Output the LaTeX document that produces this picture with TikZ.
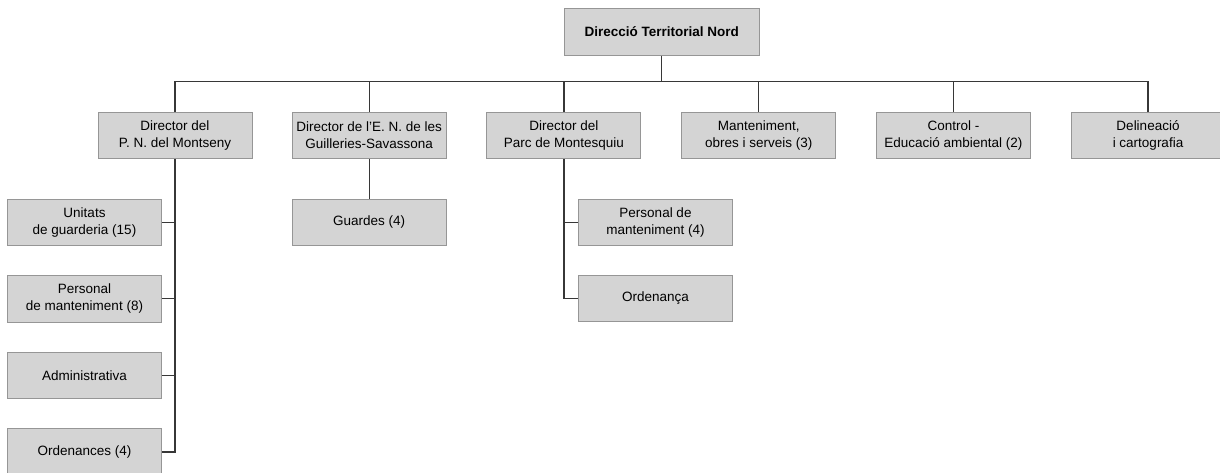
\documentclass[tikz,border=0pt]{standalone}
\usepackage{fontspec}
\setmainfont{Liberation Sans}
\definecolor{boxfill}{RGB}{212,212,212}
\definecolor{boxline}{RGB}{150,150,150}
\definecolor{conn}{RGB}{55,55,55}
\begin{document}
\begin{tikzpicture}[x=1pt,y=-1pt,
  orgbox/.style={draw=boxline,fill=boxfill,line width=0.9pt,minimum width=154pt,minimum height=46.5pt,
    align=center,inner sep=1pt,font=\fontsize{13.5}{17}\selectfont},
  link/.style={draw=conn,line width=1.2pt}]
\useasboundingbox (0,0) rectangle (1220,472);
\clip (0,0) rectangle (1220,472);
\fill[white] (0,0) rectangle (1220,472);
% top
\node[orgbox,minimum width=195pt,minimum height=46.7pt,font=\fontsize{13.5}{17}\selectfont\bfseries] (top) at (661.7,31.7) {Direcció Territorial Nord};
% row 1
\node[orgbox] (mont) at (175,135.5) {Director del\\P. N. del Montseny};
\node[orgbox] (guil) at (369.2,135.5) {Director de l’E. N. de les\\Guilleries-Savassona};
\node[orgbox] (parc) at (563.9,135.5) {Director del\\Parc de Montesquiu};
\node[orgbox] (mant) at (758.7,135.5) {Manteniment,\\obres i serveis (3)};
\node[orgbox] (ctrl) at (953.4,135.5) {Control -\\Educació ambiental (2)};
\node[orgbox] (deli) at (1148,135.5) {Delineació\\i cartografia};
% Montseny children
\node[orgbox] (unit) at (84.5,222.3) {Unitats\\de guarderia (15)};
\node[orgbox] (pers8) at (84.5,298.7) {Personal\\de manteniment (8)};
\node[orgbox] (admin) at (84.5,375.3) {Administrativa};
\node[orgbox] (orde4) at (84.5,452) {Ordenances (4)};
% Guilleries child
\node[orgbox] (guar) at (369.2,222.3) {Guardes (4)};
% Montesquiu children
\node[orgbox] (pers4) at (655.5,222.3) {Personal de\\manteniment (4)};
\node[orgbox] (orda) at (655.5,298.4) {Ordenança};
% bus
\coordinate (bus) at (661.7,81.3);
\draw[link] (top.south) -- (bus);
\draw[link] (mont.north) -- (mont.north |- bus) -- (deli.north |- bus) -- (deli.north);
\foreach \n in {guil,parc,mant,ctrl} \draw[link] (\n.north) -- (\n.north |- bus);
% Montseny tree
\draw[link] (mont.south) -- (mont.south |- orde4.east) -- (orde4.east);
\foreach \n in {unit,pers8,admin} \draw[link] (\n.east) -- (\n.east -| mont.south);
% Guilleries
\draw[link] (guil.south) -- (guar.north);
% Montesquiu tree
\draw[link] (parc.south) -- (parc.south |- orda.west) -- (orda.west);
\draw[link] (pers4.west) -- (pers4.west -| parc.south);
\end{tikzpicture}
\end{document}
